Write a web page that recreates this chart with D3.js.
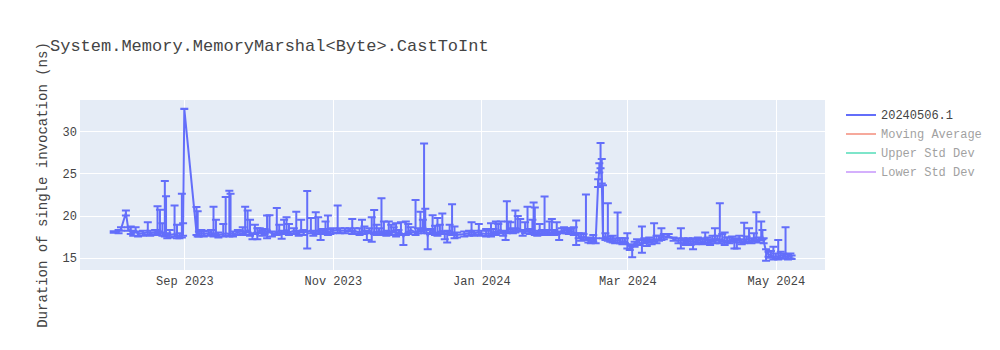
<!DOCTYPE html>
<html><head><meta charset="utf-8">
<script src="https://cdn.jsdelivr.net/npm/d3@7"></script>
<style>body{margin:0;background:#fff} svg{display:block}</style>
</head><body><svg id="c" width="1000" height="350"></svg>
<script>
const title = "System.Memory.MemoryMarshal<Byte>.CastToInt";
const yTitle = "Duration of single invocation (ns)";
const dates = [
"2023-08-03","2023-08-05","2023-08-06","2023-08-08","2023-08-09","2023-08-10","2023-08-11","2023-08-12","2023-08-13","2023-08-15","2023-08-17","2023-08-18","2023-08-20","2023-08-21","2023-08-22","2023-08-23","2023-08-24","2023-08-24T12:00","2023-08-25","2023-08-26","2023-08-28","2023-08-29","2023-08-30","2023-08-31","2023-08-31T12:00",
"2023-09-01","2023-09-06","2023-09-06T12:00","2023-09-07","2023-09-08","2023-09-09","2023-09-11","2023-09-12","2023-09-13","2023-09-14","2023-09-15","2023-09-17","2023-09-18","2023-09-19T12:00","2023-09-20","2023-09-21","2023-09-23","2023-09-25","2023-09-26","2023-09-27","2023-09-28","2023-09-29","2023-09-30",
"2023-10-01","2023-10-02","2023-10-03","2023-10-04","2023-10-05","2023-10-06","2023-10-07","2023-10-09","2023-10-10","2023-10-11","2023-10-12","2023-10-13","2023-10-14","2023-10-16","2023-10-17","2023-10-18","2023-10-19","2023-10-20","2023-10-21T12:00","2023-10-23","2023-10-24","2023-10-25","2023-10-26","2023-10-27","2023-10-28","2023-10-29","2023-10-30","2023-10-31",
"2023-11-01","2023-11-03","2023-11-04","2023-11-06","2023-11-08","2023-11-09","2023-11-10","2023-11-12","2023-11-13","2023-11-14","2023-11-15","2023-11-16","2023-11-17","2023-11-18","2023-11-19","2023-11-20","2023-11-21","2023-11-22","2023-11-23","2023-11-24","2023-11-25","2023-11-26","2023-11-27","2023-11-28","2023-11-29","2023-11-30",
"2023-12-01","2023-12-02","2023-12-03","2023-12-05","2023-12-06","2023-12-07","2023-12-08","2023-12-08T12:00","2023-12-09","2023-12-10","2023-12-11","2023-12-12","2023-12-13","2023-12-14","2023-12-15","2023-12-16","2023-12-17","2023-12-18","2023-12-19","2023-12-20","2023-12-21","2023-12-22","2023-12-25","2023-12-27","2023-12-28","2023-12-29","2023-12-31",
"2024-01-01","2024-01-03","2024-01-04","2024-01-05","2024-01-06","2024-01-07","2024-01-08","2024-01-09","2024-01-10","2024-01-11","2024-01-11T12:00","2024-01-12","2024-01-13","2024-01-14","2024-01-15","2024-01-16","2024-01-17","2024-01-18","2024-01-19","2024-01-20","2024-01-21","2024-01-22","2024-01-22T12:00","2024-01-23","2024-01-24","2024-01-25","2024-01-26","2024-01-27","2024-01-28","2024-01-29","2024-01-30","2024-01-31",
"2024-02-01","2024-02-02","2024-02-03","2024-02-04","2024-02-05","2024-02-06","2024-02-07","2024-02-08","2024-02-09","2024-02-10","2024-02-11","2024-02-12","2024-02-13","2024-02-14","2024-02-15","2024-02-16","2024-02-17","2024-02-18","2024-02-18T12:00","2024-02-19","2024-02-19T12:00","2024-02-20","2024-02-21","2024-02-22","2024-02-23","2024-02-24","2024-02-25","2024-02-26","2024-02-27","2024-02-28","2024-02-29",
"2024-03-01","2024-03-02","2024-03-03","2024-03-04","2024-03-05","2024-03-06","2024-03-07","2024-03-08","2024-03-09","2024-03-10","2024-03-11","2024-03-12","2024-03-13","2024-03-14","2024-03-15","2024-03-16","2024-03-18","2024-03-20","2024-03-22","2024-03-23","2024-03-24","2024-03-25","2024-03-26","2024-03-27","2024-03-28","2024-03-29","2024-03-30","2024-03-31",
"2024-04-01","2024-04-02","2024-04-03","2024-04-04","2024-04-05","2024-04-06","2024-04-07","2024-04-08","2024-04-09","2024-04-10","2024-04-11","2024-04-12","2024-04-13","2024-04-14","2024-04-15","2024-04-16","2024-04-17","2024-04-18","2024-04-19","2024-04-20","2024-04-21","2024-04-22","2024-04-23","2024-04-24","2024-04-25","2024-04-25T12:00","2024-04-26","2024-04-27","2024-04-28","2024-04-29","2024-04-30",
"2024-05-01","2024-05-02","2024-05-03","2024-05-04","2024-05-05","2024-05-06","2024-05-07","2024-05-07T12:00"
];
const values = [
18.05,18.1,18.4,20.3,18.4,18.0,17.9,18.2,17.8,17.9,18.0,17.9,18.0,18.1,18.3,17.9,17.8,18.0,17.6,17.7,17.8,17.6,17.6,17.7,17.9,
32.65,18.0,17.8,17.8,17.9,17.8,17.9,18.0,17.8,17.9,17.7,17.8,17.9,17.8,17.9,17.8,18.0,18.2,18.0,18.3,17.9,17.6,18.1,
17.7,18.2,17.9,18.1,18.0,18.3,17.8,18.0,18.1,17.9,18.1,18.3,18.0,18.2,18.1,17.9,18.3,18.0,18.1,18.2,17.9,18.1,18.2,17.9,18.1,18.3,18.0,18.1,
18.2,18.3,18.2,18.2,18.3,18.1,18.2,18.0,18.1,18.2,17.9,18.2,17.9,18.1,18.0,18.2,18.0,18.1,17.9,18.2,18.0,18.3,17.8,18.0,18.1,17.5,
18.0,18.1,18.3,18.0,18.2,18.4,18.5,18.2,18.6,17.6,18.1,18.3,18.0,17.9,18.2,18.1,17.8,17.9,18.1,18.0,17.9,17.7,17.8,17.9,18.0,17.9,18.0,
17.9,17.8,17.9,17.8,18.1,18.0,18.2,18.3,17.9,17.8,18.2,18.3,18.4,18.2,18.3,18.5,18.4,18.0,18.2,18.4,18.1,18.3,18.2,18.0,17.9,18.2,18.0,18.1,18.0,18.3,18.2,18.0,
18.1,17.8,18.2,18.3,18.2,18.1,18.2,18.0,17.9,17.6,17.3,17.5,17.4,17.1,17.0,17.2,17.0,23.8,25.5,26.0,24.2,17.6,17.4,17.3,17.2,17.1,17.0,17.1,17.0,16.9,17.0,
16.8,16.3,16.1,16.6,16.9,16.8,16.5,17.0,16.8,17.1,16.9,17.2,17.0,17.3,17.4,17.5,17.6,17.2,17.0,17.1,17.0,16.8,17.0,16.9,17.0,16.9,17.1,17.0,
16.9,17.0,17.1,16.9,17.2,17.0,17.3,17.0,17.2,16.9,17.1,17.0,17.2,16.8,17.0,17.1,16.9,17.0,17.2,17.1,17.0,17.3,17.2,17.1,17.4,17.5,17.0,15.7,15.4,15.3,15.1,
15.2,15.1,15.3,15.2,15.2,15.1,15.2,15.05
];
const errPlus = [
0.1,0.2,0.2,0.3,0.2,0.7,0.3,0.4,0.3,0.3,1.2,0.3,0.3,3.0,2.4,1.2,6.3,4.3,0.3,0.6,3.4,1.3,0.3,4.9,1.2,
0.02,3.0,2.7,0.3,0.4,0.3,0.3,0.3,3.25,1.6,0.3,1.2,4.3,5.15,4.7,0.3,0.3,0.4,3.05,2.3,1.6,0.3,0.8,
0.8,0.3,0.3,0.3,2.0,1.75,0.3,2.9,0.8,0.3,1.4,1.5,1.0,0.3,2.35,0.3,1.2,0.3,4.8,1.5,0.3,2.3,1.6,0.3,0.3,1.0,2.0,0.3,
0.3,2.9,0.3,0.3,0.2,1.5,0.3,0.5,1.4,0.5,0.3,0.3,1.9,2.55,0.9,0.3,4.05,1.2,0.3,1.1,0.9,0.3,1.3,0.3,1.1,0.3,
1.3,0.9,0.3,3.85,0.3,2.05,1.0,10.35,2.2,0.3,0.3,1.75,0.8,1.8,0.7,2.15,0.3,0.3,0.8,3.35,0.8,0.3,0.3,0.3,1.2,0.3,1.0,
0.3,0.6,0.3,1.3,0.3,1.3,0.8,1.0,0.3,0.3,3.5,1.0,0.8,0.3,2.3,1.45,1.2,0.3,1.0,2.65,0.3,1.2,3.35,2.95,0.3,0.8,0.3,4.15,0.3,1.0,1.4,0.3,
1.1,0.3,0.3,0.3,0.3,0.3,0.3,0.6,1.5,0.3,0.6,0.3,5.1,0.3,0.3,0.5,0.3,0.5,0.7,2.6,2.5,6.0,0.5,4.15,0.3,0.5,0.3,3.25,0.3,0.4,0.3,
1.1,0.3,0.3,0.3,0.3,0.3,2.2,0.3,0.3,0.3,0.3,1.9,0.6,0.3,1.1,0.3,0.2,0.2,0.3,1.4,0.3,0.3,0.3,0.3,0.3,0.3,0.3,0.3,
0.3,1.0,0.3,0.3,0.4,1.5,0.3,4.45,0.6,1.1,0.3,0.4,0.3,0.3,0.3,0.5,0.3,2.15,0.3,1.4,0.3,0.6,3.2,0.3,1.9,0.8,0.3,0.3,0.3,0.5,1.2,
0.3,2.0,0.4,0.3,3.4,0.3,0.3,0.2
];
const errMinus = [
0.1,0.2,0.2,0.3,0.2,0.2,0.3,0.2,0.3,0.3,0.3,0.3,0.3,0.3,0.3,0.3,0.3,0.3,0.3,0.3,0.3,0.3,0.3,0.3,0.3,
0.02,0.3,0.3,0.3,0.3,0.3,0.3,0.3,0.3,0.3,0.3,0.3,0.3,0.3,0.3,0.3,0.3,0.3,0.3,0.3,0.3,0.4,0.3,
0.5,0.3,0.3,0.3,0.7,0.3,0.3,0.3,0.3,0.65,0.3,0.3,0.3,0.3,0.3,0.3,0.3,0.3,2.0,0.3,0.3,0.3,0.3,0.8,0.3,0.3,0.3,0.3,
0.3,0.3,0.3,0.3,0.2,0.3,0.3,0.3,0.3,0.3,0.8,0.3,1.0,0.3,0.3,0.3,0.3,0.3,0.3,0.3,0.3,0.3,0.3,0.3,0.3,1.0,
0.3,0.3,0.3,0.3,0.3,0.3,0.3,0.3,0.3,1.6,0.3,0.3,0.3,0.3,0.3,0.3,0.6,1.1,0.3,0.3,0.6,0.3,0.3,0.3,0.3,0.3,0.3,
0.3,0.3,0.3,0.3,0.3,0.3,0.3,0.3,0.3,0.7,0.3,0.3,0.3,0.3,0.3,0.3,0.3,0.4,0.3,0.3,0.3,0.3,0.3,0.3,0.3,0.3,0.3,0.3,0.3,0.3,0.3,0.3,
0.3,0.7,0.3,0.3,0.3,0.3,0.3,0.3,1.4,0.3,0.3,0.3,0.3,0.3,0.3,0.3,0.3,0.4,0.4,0.4,0.4,0.3,0.3,0.3,0.3,0.3,0.3,0.3,0.3,0.3,0.3,
0.7,0.4,1.05,0.3,0.3,0.3,0.9,0.3,0.4,0.3,0.3,0.3,0.3,0.3,0.3,0.3,0.2,0.2,0.3,1.0,0.3,0.3,0.3,0.4,1.0,0.3,0.3,0.3,
0.3,0.3,0.3,0.4,0.3,0.3,0.3,0.3,0.3,0.4,0.3,0.3,0.3,0.7,0.9,0.3,0.3,0.3,0.3,0.3,0.3,0.3,0.3,0.3,0.3,0.3,0.3,1.05,0.3,0.3,0.3,
0.3,0.3,0.3,0.3,0.3,0.3,0.3,0.2
];
const xTickDates = ["2023-09-01","2023-11-01","2024-01-01","2024-03-01","2024-05-01"];
const yTicks = [15, 20, 25, 30];
const legendNames = ["20240506.1", "Moving Average", "Upper Std Dev", "Lower Std Dev"];
const legendColors = ["#636efa", "#EF553B", "#00cc96", "#ab63fa"];
const legendShown = [true, false, false, false];
const xDomain = ["2023-07-20T03:36", "2024-05-21T05:00"];
const yDomain = [13.54, 33.71];

const FONT = '"Courier New", "Liberation Mono", monospace';
const parseD = s => new Date(s.length === 10 ? s + "T00:00:00Z" : s + ":00Z");
const n = Math.min(dates.length, values.length, errPlus.length, errMinus.length);
const data = d3.range(n).map(i => ({ t: parseD(dates[i]), v: values[i], p: errPlus[i], m: errMinus[i] }));

const L = 80, R = 825, T = 100, B = 270;
const svg = d3.select("#c");
const x = d3.scaleUtc().domain(xDomain.map(parseD)).range([L, R]);
const y = d3.scaleLinear().domain(yDomain).range([B, T]);

svg.append("rect").attr("x", 0).attr("y", 0).attr("width", 1000).attr("height", 350).attr("fill", "#fff");
svg.append("rect").attr("x", L).attr("y", T).attr("width", R - L).attr("height", B - T).attr("fill", "#E5ECF6");

// grid
const xTicks = xTickDates.map(parseD);
svg.append("g").selectAll("line").data(xTicks).join("line")
  .attr("x1", d => Math.round(x(d)) + 0.5).attr("x2", d => Math.round(x(d)) + 0.5)
  .attr("y1", T).attr("y2", B).attr("stroke", "#fff").attr("stroke-width", 1);
svg.append("g").selectAll("line").data(yTicks).join("line")
  .attr("y1", d => Math.round(y(d)) + 0.5).attr("y2", d => Math.round(y(d)) + 0.5)
  .attr("x1", L).attr("x2", R).attr("stroke", "#fff").attr("stroke-width", 1);

// axes via d3
const xAxis = d3.axisBottom(x).tickValues(xTicks).tickFormat(d3.utcFormat("%b %Y")).tickSize(0).tickPadding(6);
const gx = svg.append("g").attr("transform", `translate(0,${B})`).call(xAxis);
gx.select(".domain").remove();
gx.selectAll("text").attr("font-family", FONT).attr("font-size", 12).attr("fill", "#444");

const yAxis = d3.axisLeft(y).tickValues(yTicks).tickFormat(d3.format("d")).tickSize(0).tickPadding(3);
const gy = svg.append("g").attr("transform", `translate(${L},0)`).call(yAxis);
gy.select(".domain").remove();
gy.selectAll("text").attr("font-family", FONT).attr("font-size", 12).attr("fill", "#444");

// clip
svg.append("clipPath").attr("id", "clip").append("rect").attr("x", L).attr("y", T).attr("width", R - L).attr("height", B - T);

const color = legendColors[0];
const plot = svg.append("g");
// error bars
const cap = 4;
plot.append("g").selectAll("path").data(data).join("path")
  .attr("d", d => {
    const cx = x(d.t), y1 = y(d.v + d.p), y0 = y(d.v - d.m);
    return `M${cx - cap},${y1}h${2 * cap}m-${cap},0V${y0}m-${cap},0h${2 * cap}`;
  })
  .attr("fill", "none").attr("stroke", color).attr("stroke-width", 2);
// line
plot.append("path").datum(data)
  .attr("clip-path", "url(#clip)")
  .attr("d", d3.line().x(d => x(d.t)).y(d => y(d.v)))
  .attr("fill", "none").attr("stroke", color).attr("stroke-width", 2);

// title
svg.append("text").attr("x", 50).attr("y", 51).text(title)
  .attr("font-family", FONT).attr("font-size", 17).attr("fill", "#444");
// y title
svg.append("text").attr("transform", `translate(47,${(T + B) / 2}) rotate(-90)`)
  .attr("text-anchor", "middle").text(yTitle)
  .attr("font-family", FONT).attr("font-size", 14).attr("fill", "#444");

// legend
const lg = svg.append("g").attr("transform", "translate(846,115)");
legendNames.forEach((name, i) => {
  const g = lg.append("g").attr("transform", `translate(0,${i * 19})`).attr("opacity", legendShown[i] ? 1 : 0.5);
  g.append("line").attr("x1", 0).attr("x2", 30).attr("y1", 0).attr("y2", 0)
    .attr("stroke", legendColors[i]).attr("stroke-width", 2);
  g.append("text").attr("x", 35).attr("y", 4).text(name)
    .attr("font-family", FONT).attr("font-size", 12).attr("fill", "#444");
});
</script></body></html>
